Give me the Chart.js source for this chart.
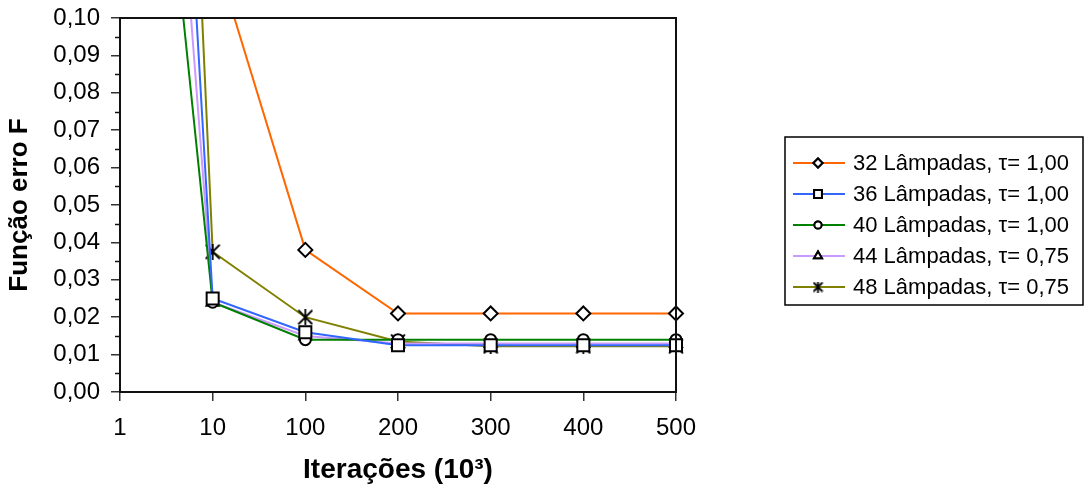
<!DOCTYPE html>
<html>
<head>
<meta charset="utf-8">
<script src="https://cdn.jsdelivr.net/npm/chart.js@4"></script>
<style>
  html, body { margin: 0; padding: 0; background: #fff; }
</style>
</head>
<body>
<canvas id="myChart" width="1086" height="490"></canvas>
<script>
// categories (x, 10^3 iterations) and y ticks
const labels = ['1', '10', '100', '200', '300', '400', '500'];
const yMin = 0, yMax = 0.10, yStep = 0.01;

// series (first point is off the top of the plot)
const names = [
  '32 Lâmpadas, τ= 1,00',
  '36 Lâmpadas, τ= 1,00',
  '40 Lâmpadas, τ= 1,00',
  '44 Lâmpadas, τ= 0,75',
  '48 Lâmpadas, τ= 0,75'
];
const lamp32 = [0.300, 0.119, 0.038, 0.021, 0.021, 0.021, 0.021];
const lamp36 = [0.455, 0.025, 0.016, 0.0125, 0.0125, 0.0125, 0.0125];
const lamp40 = [0.264, 0.024, 0.014, 0.014, 0.014, 0.014, 0.014];
const lamp44 = [0.350, 0.024, 0.015, 0.013, 0.013, 0.013, 0.013];
const lamp48 = [0.590, 0.0375, 0.020, 0.0135, 0.0122, 0.0122, 0.0122];

const colors = ['#FF6600', '#3366FF', '#008000', '#CC99FF', '#808000'];
const sizes = [7, 8.5, 5.5, 7, 8];

// asterisk marker like the original (X with a vertical bar)
function asterisk(size) {
  const c = document.createElement('canvas');
  c.width = c.height = size;
  const g = c.getContext('2d');
  const m = size / 2, r = size / 2 - 1;
  g.strokeStyle = '#000';
  g.lineWidth = 1.8;
  g.beginPath();
  g.moveTo(m - r, m - r); g.lineTo(m + r, m + r);
  g.moveTo(m + r, m - r); g.lineTo(m - r, m + r);
  g.moveTo(m, m - r - 1); g.lineTo(m, m + r + 1);
  g.stroke();
  return c;
}
const starBig = asterisk(16);
const starSmall = asterisk(11);
const markers = ['rectRot', 'rect', 'circle', 'triangle', starBig];

Chart.defaults.font.family = '"Liberation Sans", Arial, sans-serif';
Chart.defaults.color = '#000';

const fmt = v => v.toFixed(2).replace('.', ',');

// frame round the plot + minor ticks on the y axis
const framePlugin = {
  id: 'frame',
  afterDraw(chart) {
    const { ctx, chartArea: a } = chart;
    const y = chart.scales.y;
    ctx.save();
    ctx.strokeStyle = '#111';
    ctx.lineWidth = 2;
    ctx.strokeRect(a.left, a.top, a.right - a.left, a.bottom - a.top);
    ctx.lineWidth = 1.5;
    for (let v = yMin + yStep / 2; v < yMax; v += yStep) {
      const py = Math.round(y.getPixelForValue(v)) + 0.5;
      ctx.beginPath();
      ctx.moveTo(a.left - 5, py);
      ctx.lineTo(a.left, py);
      ctx.stroke();
    }
    ctx.restore();
  }
};

// legend with line + marker samples, drawn in a box at the right
const legendPlugin = {
  id: 'boxLegend',
  afterDraw(chart) {
    const { ctx } = chart;
    const box = { x: 785, y: 137, w: 298, h: 168 };
    const row = 31;
    ctx.save();
    ctx.fillStyle = '#fff';
    ctx.fillRect(box.x, box.y, box.w, box.h);
    ctx.strokeStyle = '#000';
    ctx.lineWidth = 1.5;
    ctx.strokeRect(box.x, box.y, box.w, box.h);
    ctx.font = '22px "Liberation Sans", Arial, sans-serif';
    ctx.textBaseline = 'middle';
    chart.data.datasets.forEach((ds, i) => {
      const cy = box.y + 26 + i * row;
      ctx.strokeStyle = ds.borderColor;
      ctx.lineWidth = 2;
      ctx.beginPath();
      ctx.moveTo(box.x + 8, cy);
      ctx.lineTo(box.x + 60, cy);
      ctx.stroke();
      const style = typeof ds.pointStyle === 'string' ? ds.pointStyle : starSmall;
      ctx.fillStyle = '#fff';
      ctx.strokeStyle = '#000';
      Chart.helpers.drawPoint(ctx, {
        pointStyle: style, radius: ds.pointRadius * 0.65, rotation: 0, borderWidth: 1.5
      }, box.x + 33, cy);
      if (typeof style === 'string') { ctx.fill(); ctx.stroke(); }
      ctx.fillStyle = '#000';
      ctx.fillText(ds.label, box.x + 68, cy + 1);
    });
    ctx.restore();
  }
};

const series = [lamp32, lamp36, lamp40, lamp44, lamp48];

new Chart(document.getElementById('myChart'), {
  type: 'line',
  data: {
    labels: labels,
    datasets: series.map((d, i) => ({
      label: names[i],
      data: d,
      borderColor: colors[i],
      borderWidth: 2,
      pointStyle: markers[i],
      pointRadius: sizes[i],
      pointBorderColor: '#000',
      pointBackgroundColor: '#fff',
      pointBorderWidth: 2,
      tension: 0
    }))
  },
  options: {
    responsive: false,
    animation: false,
    layout: { padding: { top: 18, right: 410, left: 0, bottom: 0 } },
    plugins: { legend: { display: false }, tooltip: { enabled: false } },
    scales: {
      x: {
        type: 'category',
        offset: false,
        afterFit: s => { s.height = 98; s.paddingLeft = 0; s.paddingRight = 0; },
        grid: { drawOnChartArea: false, tickLength: 9, color: '#333', lineWidth: 1.5 },
        border: { color: '#111', width: 2 },
        ticks: { font: { size: 24 }, padding: 13, maxRotation: 0 },
        title: { display: true, text: 'Iterações (10³)', font: { size: 28, weight: 'bold' }, padding: { bottom: 3 } }
      },
      y: {
        min: yMin,
        max: yMax,
        afterFit: s => { s.width = 120; s.paddingTop = 0; s.paddingBottom = 0; },
        afterBuildTicks: s => {
          const t = [];
          for (let k = 0; k <= Math.round((yMax - yMin) / yStep); k++) t.push({ value: yMin + k * yStep });
          s.ticks = t;
        },
        grid: { drawOnChartArea: false, tickLength: 9, color: '#333', lineWidth: 1.5 },
        border: { color: '#111', width: 2 },
        ticks: { font: { size: 24 }, padding: 11, callback: v => fmt(v) },
        title: { display: true, text: 'Função erro F', font: { size: 26, weight: 'bold' }, padding: { top: 4 } }
      }
    }
  },
  plugins: [framePlugin, legendPlugin]
});
</script>
</body>
</html>
